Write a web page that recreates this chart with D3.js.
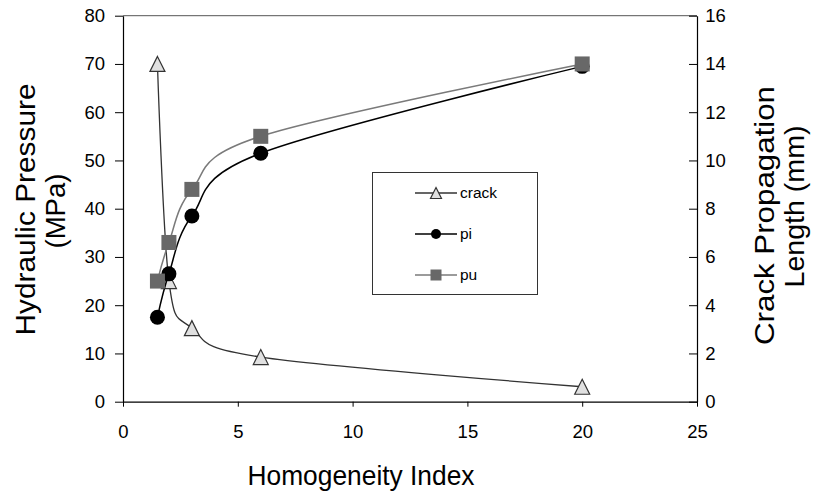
<!DOCTYPE html>
<html>
<head>
<meta charset="utf-8">
<script src="https://cdn.jsdelivr.net/npm/d3@7"></script>
<style>
  html, body { margin: 0; padding: 0; background: #fff; }
  svg { display: block; font-family: "Liberation Sans", Arial, sans-serif; }
</style>
</head>
<body>
<svg id="chart" width="814" height="495"></svg>
<script>
// Homogeneity index values (x) and the three measured series
const homogeneity = [1.5, 2, 3, 6, 20];
const crackLength = [14, 5.0, 3.05, 1.85, 0.62];   // mm, right axis
const piPressure  = [17.5, 26.5, 38.5, 51.5, 69.5]; // MPa, left axis
const puPressure  = [25, 33, 44, 55, 70];           // MPa, left axis

const xTickValues     = [0, 5, 10, 15, 20, 25];
const leftTickValues  = [0, 10, 20, 30, 40, 50, 60, 70, 80];
const rightTickValues = [0, 2, 4, 6, 8, 10, 12, 14, 16];

const seriesNames = ["crack", "pi", "pu"];

const svg = d3.select("#chart");
const plot = { left: 123, right: 697, top: 15.7, bottom: 401.7 };

const x  = d3.scaleLinear().domain([0, 25]).range([plot.left, plot.right]);
const yL = d3.scaleLinear().domain([0, 80]).range([plot.bottom, plot.top]);
const yR = d3.scaleLinear().domain([0, 16]).range([plot.bottom, plot.top]);

// plot-area frame (top edge)
svg.append("line")
  .attr("x1", plot.left).attr("x2", plot.right)
  .attr("y1", plot.top).attr("y2", plot.top)
  .attr("stroke", "#555").attr("stroke-width", 1);

const tickFont = "18.5px";

// left axis
const gL = svg.append("g").attr("transform", `translate(${plot.left},0)`)
  .call(d3.axisLeft(yL).tickValues(leftTickValues).tickSize(8).tickSizeOuter(0).tickPadding(10));
// right axis (ticks point inward)
const gR = svg.append("g").attr("transform", `translate(${plot.right},0)`)
  .call(d3.axisRight(yR).tickValues(rightTickValues).tickSize(-8).tickSizeOuter(0).tickPadding(10));
// bottom axis
const gB = svg.append("g").attr("transform", `translate(0,${plot.bottom})`)
  .call(d3.axisBottom(x).tickValues(xTickValues).tickSize(5).tickSizeOuter(0).tickPadding(18));

[gL, gR, gB].forEach(g => {
  g.select(".domain").attr("stroke", "#000").attr("stroke-width", 1.2);
  g.selectAll(".tick line").attr("stroke", "#000").attr("stroke-width", 1);
  g.selectAll(".tick text").attr("fill", "#000").style("font-size", tickFont)
    .style("font-family", '"Liberation Sans", Arial, sans-serif');
});
gR.selectAll(".tick text").attr("dx", "-0.1em");

// axis titles
svg.append("text")
  .attr("x", 361).attr("y", 485)
  .attr("text-anchor", "middle")
  .attr("textLength", 227).attr("lengthAdjust", "spacingAndGlyphs")
  .style("font-size", "28px").text("Homogeneity Index");

function vTitle(bx, cy, len, txt) {
  svg.append("text")
    .attr("transform", `translate(${bx},${cy}) rotate(-90)`)
    .attr("text-anchor", "middle")
    .attr("textLength", len).attr("lengthAdjust", "spacingAndGlyphs")
    .style("font-size", "28.5px").text(txt);
}
vTitle(34.5, 209.5, 252, "Hydraulic Pressure");
vTitle(65, 211, 75, "(MPa)");
vTitle(773.5, 215.5, 259, "Crack Propagation");
vTitle(803.5, 206.5, 162, "Length (mm)");

// smoothed lines
const curve = d3.curveCatmullRom.alpha(0);
const lineL = d3.line().x(d => x(d[0])).y(d => yL(d[1])).curve(curve);
const lineR = d3.line().x(d => x(d[0])).y(d => yR(d[1])).curve(curve);

const crackPts = homogeneity.map((h, i) => [h, crackLength[i]]);
const piPts    = homogeneity.map((h, i) => [h, piPressure[i]]);
const puPts    = homogeneity.map((h, i) => [h, puPressure[i]]);

const style = {
  crack: { line: "#333", lw: 1.3 },
  pi:    { line: "#000", lw: 1.5 },
  pu:    { line: "#7a7a7a", lw: 1.5 }
};

function triPath(s) {
  const h = s / 2;
  return `M0,${-h}L${h},${h}L${-h},${h}Z`;
}
function drawMarker(g, name, cx, cy, size) {
  if (name === "crack") {
    g.append("path").attr("d", triPath(size))
      .attr("transform", `translate(${cx},${cy})`)
      .attr("fill", "#e0e0e0").attr("stroke", "#333").attr("stroke-width", 1.2);
  } else if (name === "pi") {
    g.append("circle").attr("cx", cx).attr("cy", cy).attr("r", size / 2)
      .attr("fill", "#000");
  } else {
    g.append("rect").attr("x", cx - size / 2).attr("y", cy - size / 2)
      .attr("width", size).attr("height", size).attr("fill", "#686868");
  }
}

// crack series (right axis)
const gCrack = svg.append("g");
gCrack.append("path").attr("d", lineR(crackPts)).attr("fill", "none")
  .attr("stroke", style.crack.line).attr("stroke-width", style.crack.lw);
crackPts.forEach(p => drawMarker(gCrack, "crack", x(p[0]), yR(p[1]), 15));

// pi series
const gPi = svg.append("g");
gPi.append("path").attr("d", lineL(piPts)).attr("fill", "none")
  .attr("stroke", style.pi.line).attr("stroke-width", style.pi.lw);
piPts.forEach(p => drawMarker(gPi, "pi", x(p[0]), yL(p[1]), 15));

// pu series
const gPu = svg.append("g");
gPu.append("path").attr("d", lineL(puPts)).attr("fill", "none")
  .attr("stroke", style.pu.line).attr("stroke-width", style.pu.lw);
puPts.forEach(p => drawMarker(gPu, "pu", x(p[0]), yL(p[1]), 15));

// legend
const leg = svg.append("g");
leg.append("rect").attr("x", 372.5).attr("y", 172.5).attr("width", 165).attr("height", 122)
  .attr("fill", "#fff").attr("stroke", "#333").attr("stroke-width", 1);
seriesNames.forEach((name, i) => {
  const cy = 193 + i * 41;
  leg.append("line").attr("x1", 415).attr("x2", 457).attr("y1", cy).attr("y2", cy)
    .attr("stroke", style[name].line).attr("stroke-width", style[name].lw);
  drawMarker(leg, name, 436, cy, name === "pi" ? 10 : 11);
  leg.append("text").attr("x", 460).attr("y", cy).attr("dy", "0.35em")
    .style("font-size", "15.5px").attr("fill", "#000").text(name);
});
</script>
</body>
</html>
